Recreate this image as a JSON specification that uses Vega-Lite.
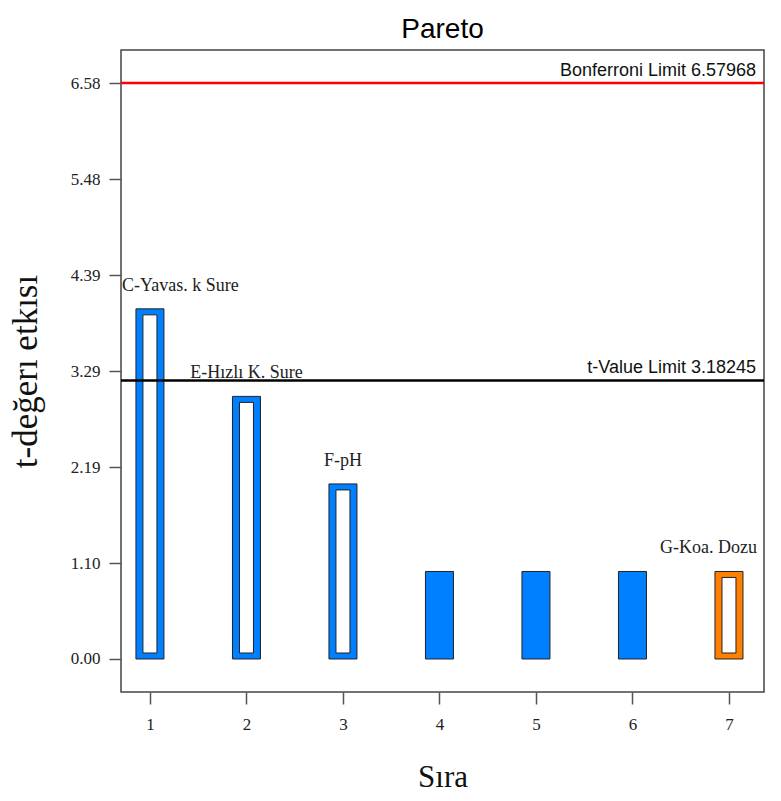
{
  "$schema": "https://vega.github.io/schema/vega-lite/v6.json",
  "autosize": "none",
  "width": 643,
  "height": 642,
  "padding": {"left": 121, "top": 50, "right": 17, "bottom": 109},
  "background": "white",
  "title": {"text": "Pareto", "font": "Liberation Sans", "fontSize": 28, "fontWeight": "normal", "color": "black", "offset": 6},
  "datasets": {
    "effects": [
      {"rank": 1, "t": 4.0, "term": "C-Yavas. k Sure", "sign": "pos", "kind": "hollow"},
      {"rank": 2, "t": 3.0, "term": "E-Hızlı K. Sure", "sign": "pos", "kind": "hollow"},
      {"rank": 3, "t": 2.0, "term": "F-pH", "sign": "pos", "kind": "hollow"},
      {"rank": 4, "t": 1.0, "term": "", "sign": "pos", "kind": "solid"},
      {"rank": 5, "t": 1.0, "term": "", "sign": "pos", "kind": "solid"},
      {"rank": 6, "t": 1.0, "term": "", "sign": "pos", "kind": "solid"},
      {"rank": 7, "t": 1.0, "term": "G-Koa. Dozu", "sign": "neg", "kind": "hollow"}
    ],
    "limits": [
      {"name": "Bonferroni", "value": 6.57968, "label": "Bonferroni Limit 6.57968"},
      {"name": "tvalue", "value": 3.18245, "label": "t-Value Limit 3.18245"}
    ]
  },
  "config": {
    "view": {"stroke": "#444", "strokeWidth": 1.5},
    "axis": {
      "domain": false,
      "grid": false,
      "tickColor": "#555",
      "tickSize": 12,
      "tickWidth": 1.5,
      "labelFont": "Liberation Serif",
      "labelFontSize": 17,
      "labelColor": "#222",
      "titleFont": "Liberation Serif",
      "titleFontWeight": "normal",
      "titleColor": "#111"
    }
  },
  "resolve": {"scale": {"color": "independent"}},
  "layer": [
    {
      "data": {"name": "effects"},
      "mark": {"type": "bar", "size": 28, "orient": "vertical", "stroke": "#222", "strokeWidth": 1},
      "encoding": {
        "x": {
          "field": "rank", "type": "quantitative",
          "scale": {"domain": [0.7, 7.363], "nice": false, "zero": false, "padding": 0},
          "axis": {"title": "Sıra", "values": [1, 2, 3, 4, 5, 6, 7], "format": "d", "labelPadding": 12, "titleFontSize": 31, "titlePadding": 30}
        },
        "y": {
          "field": "t", "type": "quantitative",
          "scale": {"domain": [-0.377, 6.957], "nice": false, "zero": false},
          "axis": {"title": "t-değerı etkısı", "values": [0, 1.09661, 2.19323, 3.28984, 4.38645, 5.48307, 6.57968], "format": ".2f", "labelPadding": 9, "titleFontSize": 35, "titlePadding": 27}
        },
        "y2": {"datum": 0},
        "color": {"field": "sign", "type": "nominal", "scale": {"domain": ["pos", "neg"], "range": ["#0080ff", "#ff8000"]}, "legend": null}
      }
    },
    {
      "data": {"name": "effects"},
      "transform": [{"filter": "datum.kind == 'hollow'"}],
      "mark": {"type": "bar", "size": 14, "orient": "vertical", "fill": "white", "stroke": "#222", "strokeWidth": 1, "yOffset": 6, "y2Offset": -6},
      "encoding": {
        "x": {"field": "rank", "type": "quantitative"},
        "y": {"field": "t", "type": "quantitative"},
        "y2": {"datum": 0}
      }
    },
    {
      "data": {"name": "limits"},
      "mark": {"type": "rule", "strokeWidth": 2.5},
      "encoding": {
        "y": {"field": "value", "type": "quantitative"},
        "color": {"field": "name", "type": "nominal", "scale": {"domain": ["Bonferroni", "tvalue"], "range": ["#ff0000", "#000000"]}, "legend": null}
      }
    },
    {
      "data": {"name": "limits"},
      "mark": {"type": "text", "font": "Liberation Sans", "fontSize": 18, "color": "#111", "align": "right", "baseline": "alphabetic", "dx": -8, "dy": -7},
      "encoding": {
        "x": {"value": "width"},
        "y": {"field": "value", "type": "quantitative"},
        "text": {"field": "label"}
      }
    },
    {
      "data": {"name": "effects"},
      "transform": [{"filter": "datum.rank == 1"}],
      "mark": {"type": "text", "font": "Liberation Serif", "fontSize": 18, "color": "#222", "align": "left", "baseline": "alphabetic", "dx": -28, "dy": -18},
      "encoding": {
        "x": {"field": "rank", "type": "quantitative"},
        "y": {"field": "t", "type": "quantitative"},
        "text": {"field": "term"}
      }
    },
    {
      "data": {"name": "effects"},
      "transform": [{"filter": "datum.rank == 2 || datum.rank == 3"}],
      "mark": {"type": "text", "font": "Liberation Serif", "fontSize": 18, "color": "#222", "align": "center", "baseline": "alphabetic", "dy": -18},
      "encoding": {
        "x": {"field": "rank", "type": "quantitative"},
        "y": {"field": "t", "type": "quantitative"},
        "text": {"field": "term"}
      }
    },
    {
      "data": {"name": "effects"},
      "transform": [{"filter": "datum.rank == 7"}],
      "mark": {"type": "text", "font": "Liberation Serif", "fontSize": 18, "color": "#222", "align": "right", "baseline": "alphabetic", "dx": 28, "dy": -18},
      "encoding": {
        "x": {"field": "rank", "type": "quantitative"},
        "y": {"field": "t", "type": "quantitative"},
        "text": {"field": "term"}
      }
    }
  ]
}
